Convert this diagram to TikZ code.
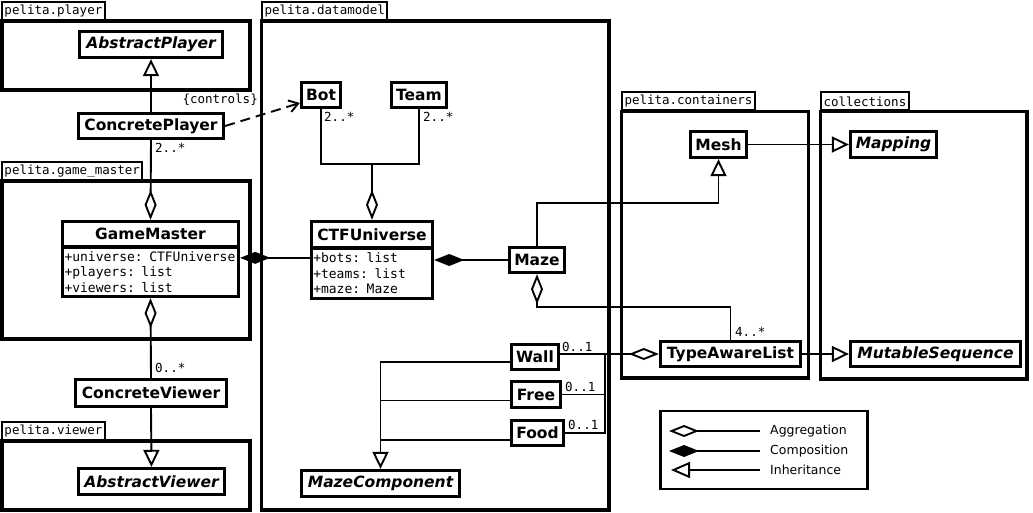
\documentclass[tikz,border=0pt]{standalone}
\usepackage{fontspec}
\setmainfont{DejaVu Sans}
\setmonofont{DejaVu Sans Mono}
\usetikzlibrary{arrows.meta,calc}
\tikzset{
 pkgbox/.style={draw, line width=3.5pt},
 pkgtab/.style={draw, line width=2pt, anchor=south west, inner xsep=2.5pt, inner ysep=0pt, minimum height=18pt, font=\ttfamily\fontsize{12.5}{14}\selectfont},
 cls/.style={draw, line width=2.8pt, fill=white, inner sep=0pt, font=\bfseries\fontsize{15.5}{18}\selectfont},
 acls/.style={cls, font=\bfseries\itshape\fontsize{15.5}{18}\selectfont},
 attrs/.style={draw, line width=2.8pt, fill=white, inner xsep=2pt, inner ysep=0pt, align=left, font=\ttfamily\fontsize{13}{15.5}\selectfont},
 conn/.style={line width=1.9pt},
 agg/.style={conn, {Diamond[open,length=30pt,width=12pt,line width=1.9pt]}-},
 comp/.style={conn, {Diamond[length=30pt,width=12pt]}-},
 inh/.style={conn, -{Triangle[open,length=17pt,width=16pt,line width=1.9pt]}},
 mult/.style={font=\ttfamily\fontsize{12.5}{14}\selectfont, inner sep=0pt, anchor=west},
 legtxt/.style={font=\fontsize{12.5}{14}\selectfont, inner sep=0pt, anchor=west},
}
\begin{document}
\begin{tikzpicture}[x=1pt,y=-1pt]
\fill[white] (0,0) rectangle (1033,513);
\useasboundingbox (0,0) rectangle (1033,513);
% packages
\draw[pkgbox] (2,21) rectangle (250,90);
\node[pkgtab] (tplayer) at (1,21) {pelita.player};
\draw[pkgbox] (2,181) rectangle (250,339);
\node[pkgtab] (tgm) at (1,181) {pelita.game\_master};
\draw[pkgbox] (2,441) rectangle (250,510);
\node[pkgtab] (tviewer) at (1,441) {pelita.viewer};
\draw[pkgbox] (261.5,21) rectangle (609,510);
\node[pkgtab] (tdm) at (261,21) {pelita.datamodel};
\draw[pkgbox] (621.5,111.5) rectangle (808.5,378);
\node[pkgtab] (tcont) at (621,111.5) {pelita.containers};
\draw[pkgbox] (820.5,111.5) rectangle (1027,379);
\node[pkgtab] (tcoll) at (820,111.5) {collections};
% classes
\node[acls, minimum width=143.5pt, minimum height=26.5pt] (ap) at (151,44.5) {AbstractPlayer};
\node[cls, minimum width=145.5pt, minimum height=25.5pt] (cp) at (151,126) {ConcretePlayer};
\node[cls, minimum width=176.5pt, minimum height=25.5pt] (gm) at (150.5,234) {GameMaster};
\node[attrs, minimum width=176.5pt, minimum height=49.5pt, text width=172pt] (gmattr) at (150.5,272) {+universe: CTFUniverse\\+players: list\\+viewers: list};
\node[cls, minimum width=151.5pt, minimum height=27.5pt] (cv) at (151,393) {ConcreteViewer};
\node[acls, minimum width=146.5pt, minimum height=26.5pt] (av) at (151.5,481.5) {AbstractViewer};
\node[cls, minimum width=39.5pt, minimum height=25.5pt] (bot) at (321,95) {Bot};
\node[cls, minimum width=55.5pt, minimum height=25.5pt] (team) at (419,95) {Team};
\node[cls, minimum width=121.5pt, minimum height=26.5pt] (ctf) at (372,234.5) {CTFUniverse};
\node[attrs, minimum width=121.5pt, minimum height=50.5pt, text width=117.5pt] (ctfattr) at (372,273.5) {+bots: list\\+teams: list\\+maze: Maze};
\node[cls, minimum width=55.5pt, minimum height=25.5pt] (maze) at (537,260) {Maze};
\node[cls, minimum width=47.5pt, minimum height=25.5pt] (wall) at (535,357) {Wall};
\node[cls, minimum width=49.5pt, minimum height=26.5pt] (free) at (536,394.5) {Free};
\node[cls, minimum width=52.5pt, minimum height=25.5pt] (food) at (537.5,433) {Food};
\node[acls, minimum width=158.5pt, minimum height=26.5pt] (mc) at (380.5,483.5) {MazeComponent};
\node[cls, minimum width=56.5pt, minimum height=26.5pt] (mesh) at (718.5,144.5) {Mesh};
\node[acls, minimum width=86.5pt, minimum height=26.5pt] (mapping) at (893.5,144.5) {Mapping};
\node[cls, minimum width=140.5pt, minimum height=25.5pt] (tal) at (730.5,354) {TypeAwareList};
\node[acls, minimum width=170.5pt, minimum height=25.5pt] (ms) at (935.5,354) {MutableSequence};
% connectors
\draw[inh] (cp.north) -- (ap.south);
\draw[conn, dash pattern=on 10pt off 6pt, -{Straight Barb[length=9pt,width=12pt,line width=1.9pt]}] (cp.east) -- ($(bot.west)+(0,8)$);
\node[mult, anchor=east] (ctl) at (258,100) {\{controls\}};
\draw[agg] (gm.north) -- (cp.south);
\node[mult] (m1) at (155,148) {2..*};
\draw[agg] (gmattr.south) -- (cv.north);
\node[mult] (m2) at (155,368) {0..*};
\draw[inh] (cv.south) -- (av.north);
\draw[comp] ($(gmattr.north east)+(0,12)$) coordinate (gmc) -- (gmc -| ctfattr.west);
\coordinate (bt) at (372,164);
\draw[conn] (bot.south) |- (bt) -| (team.south);
\draw[agg] (ctf.north) -- (bt);
\node[mult] (m3) at (324,117) {2..*};
\node[mult] (m4) at (423,117) {2..*};
\draw[comp] (ctfattr.east |- maze.west) -- (maze.west);
\draw[inh] (maze.north) -- ++(0,-43) -| (mesh.south);
\draw[inh] (mesh.east) -- (mapping.west);
\draw[agg] (maze.south) -- ++(0,33) -| (tal.north);
\node[mult] (m5) at (735,332) {4..*};
\draw[inh] (tal.east) -- (ms.west);
\draw[agg] (tal.west) -- (tal.west -| wall.east);
\draw[conn] (food.east) -- ++(40,0) coordinate (fj) -- (fj |- tal.west);
\draw[conn] (free.east) -- (free.east -| fj);
\node[mult] (m6) at (562,347) {0..1};
\node[mult] (m7) at (565,387) {0..1};
\node[mult] (m8) at (568,425) {0..1};
\draw[inh] ([yshift=-5pt]wall.west) -| (mc.north);
\draw[conn] ([yshift=-6pt]free.west) -- ++(-129,0);
\draw[conn] ([yshift=-7pt]food.west) -- ++(-129,0);
% legend
\node[draw, line width=2.8pt, minimum width=207pt, minimum height=78pt] (legend) at (764,450) {};
\node[legtxt] (lagg) at (770,431) {Aggregation};
\node[legtxt] (lcomp) at (770,451) {Composition};
\node[legtxt] (linh) at (770,470) {Inheritance};
\draw[agg] ([xshift=-101pt]lagg.west) -- ([xshift=-10pt]lagg.west);
\draw[comp] ([xshift=-101pt]lcomp.west) -- ([xshift=-10pt]lcomp.west);
\draw[conn, {Triangle[open,length=19pt,width=16pt,line width=1.9pt]}-] ([xshift=-99pt]linh.west) -- ([xshift=-10pt]linh.west);
\end{tikzpicture}
\end{document}
